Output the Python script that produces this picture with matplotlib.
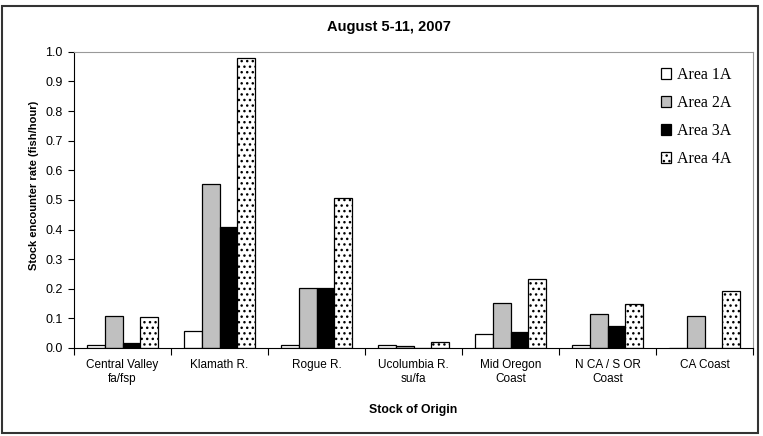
import matplotlib
matplotlib.use('Agg')
import matplotlib.pyplot as plt
import numpy as np
from matplotlib.patches import Rectangle

plt.rcParams['hatch.linewidth'] = 1.0
plt.rcParams['hatch.color'] = '#333333'

categories = ['Central Valley\nfa/fsp', 'Klamath R.', 'Rogue R.',
              'Ucolumbia R.\nsu/fa', 'Mid Oregon\nCoast', 'N CA / S OR\nCoast',
              'CA Coast']
area_1a = [0.010, 0.056, 0.010, 0.010, 0.046, 0.010, 0.000]
area_2a = [0.107, 0.553, 0.203, 0.006, 0.153, 0.113, 0.107]
area_3a = [0.017, 0.408, 0.203, 0.000, 0.054, 0.075, 0.000]
area_4a = [0.103, 0.979, 0.507, 0.020, 0.232, 0.150, 0.193]
series_labels = ['Area 1A', 'Area 2A', 'Area 3A', 'Area 4A']
yticks = [0.0, 0.1, 0.2, 0.3, 0.4, 0.5, 0.6, 0.7, 0.8, 0.9, 1.0]

fig = plt.figure(figsize=(7.63, 4.36), dpi=100)
ax = fig.add_axes([0.097, 0.202, 0.890, 0.679])

x = np.arange(len(categories))
width = 1 / 5.5
styles = [dict(color='white'), dict(color='#c0c0c0'), dict(color='black'),
          dict(color='white', hatch='...')]
for i, (vals, lab, st) in enumerate(zip([area_1a, area_2a, area_3a, area_4a],
                                        series_labels, styles)):
    ax.bar(x + (i - 1.5) * width, vals, width, label=lab,
           edgecolor='black', linewidth=0.9, **st)

ax.set_xlim(-0.5, len(categories) - 0.5)
ax.set_ylim(0, 1.0)
ax.set_yticks(yticks)
ax.set_yticklabels([f"{t:.1f}" for t in yticks], fontsize=9, family='Liberation Sans')
ax.set_xticks(x)
ax.set_xticklabels(categories, fontsize=8.5, family='Liberation Sans')
ax.set_xticks(np.arange(len(categories) + 1) - 0.5, minor=True)
ax.tick_params(axis='x', which='major', length=0, pad=8)
ax.tick_params(axis='x', which='minor', length=5, direction='out', width=0.8)
ax.tick_params(axis='y', length=4, width=0.8, pad=4)

for s in ['top', 'right']:
    ax.spines[s].set_color('#999999')
    ax.spines[s].set_linewidth(0.8)
for s in ['left', 'bottom']:
    ax.spines[s].set_linewidth(0.8)

ax.set_ylabel('Stock encounter rate (fish/hour)', fontsize=8, fontweight='bold',
              family='Liberation Sans')
ax.yaxis.set_label_coords(-0.052, 0.55)
ax.set_xlabel('Stock of Origin', fontsize=8.8, fontweight='bold',
              family='Liberation Sans', labelpad=14)
fig.text(0.51, 0.938, 'August 5-11, 2007', fontsize=10.5, fontweight='bold',
         family='Liberation Sans', ha='center', va='center')

ax.legend(loc='upper left', bbox_to_anchor=(0.855, 0.97), frameon=False,
          prop={'family': 'Liberation Serif', 'size': 11.5},
          handlelength=0.65, handleheight=0.65, handletextpad=0.35,
          labelspacing=0.75, borderaxespad=0)

fig.patches.append(Rectangle((0.003, 0.007), 0.990, 0.98, transform=fig.transFigure,
                             fill=False, edgecolor='#333333', linewidth=1.5))

fig.savefig('out.png', dpi=100)
